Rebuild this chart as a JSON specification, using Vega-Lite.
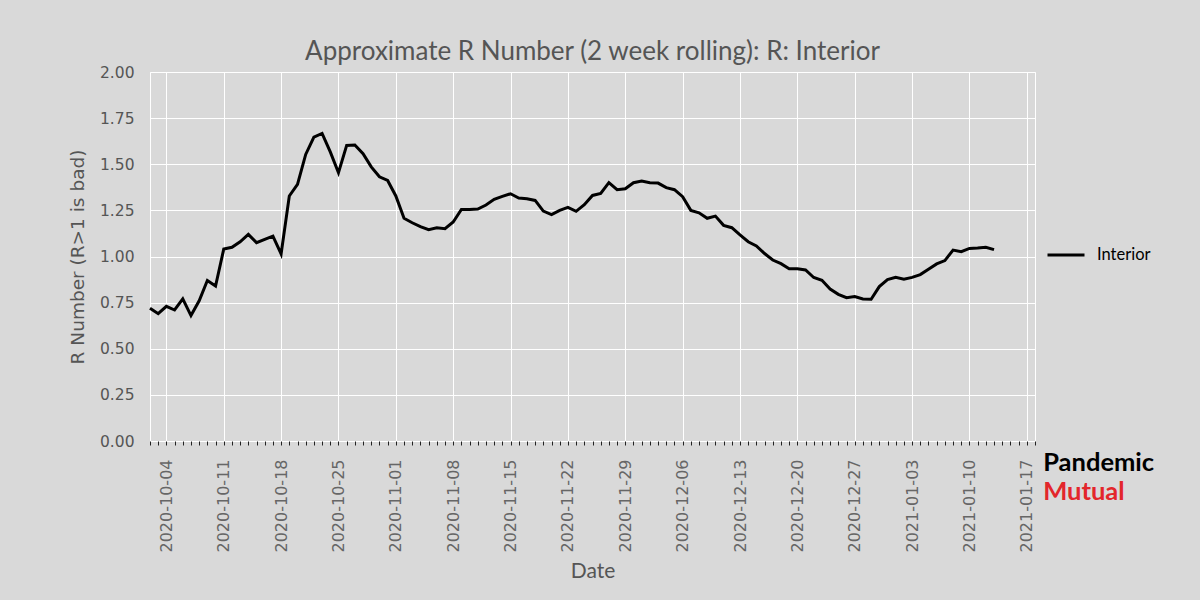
{
  "$schema": "https://vega.github.io/schema/vega-lite/v6.json",
  "autosize": {"type": "none"},
  "width": 885,
  "height": 369,
  "padding": {"left": 150, "top": 72, "right": 165, "bottom": 159},
  "background": "#d9d9d9",
  "config": {
    "view": {"stroke": "white", "strokeWidth": 1, "fill": "#d9d9d9"},
    "font": "Lato"
  },
  "title": {
    "text": "Approximate R Number (2 week rolling): R: Interior",
    "font": "Lato",
    "fontSize": 26,
    "fontWeight": "normal",
    "color": "#555555",
    "anchor": "middle",
    "offset": 0
  },
  "layer": [
    {
      "data": {
        "values": [
          {"date": "2020-10-02", "r": 0.72, "region": "Interior"},
          {"date": "2020-10-03", "r": 0.69, "region": "Interior"},
          {"date": "2020-10-04", "r": 0.73, "region": "Interior"},
          {"date": "2020-10-05", "r": 0.71, "region": "Interior"},
          {"date": "2020-10-06", "r": 0.77, "region": "Interior"},
          {"date": "2020-10-07", "r": 0.68, "region": "Interior"},
          {"date": "2020-10-08", "r": 0.76, "region": "Interior"},
          {"date": "2020-10-09", "r": 0.87, "region": "Interior"},
          {"date": "2020-10-10", "r": 0.84, "region": "Interior"},
          {"date": "2020-10-11", "r": 1.04, "region": "Interior"},
          {"date": "2020-10-12", "r": 1.05, "region": "Interior"},
          {"date": "2020-10-13", "r": 1.08, "region": "Interior"},
          {"date": "2020-10-14", "r": 1.12, "region": "Interior"},
          {"date": "2020-10-15", "r": 1.075, "region": "Interior"},
          {"date": "2020-10-16", "r": 1.093, "region": "Interior"},
          {"date": "2020-10-17", "r": 1.11, "region": "Interior"},
          {"date": "2020-10-18", "r": 1.014, "region": "Interior"},
          {"date": "2020-10-19", "r": 1.328, "region": "Interior"},
          {"date": "2020-10-20", "r": 1.391, "region": "Interior"},
          {"date": "2020-10-21", "r": 1.553, "region": "Interior"},
          {"date": "2020-10-22", "r": 1.647, "region": "Interior"},
          {"date": "2020-10-23", "r": 1.667, "region": "Interior"},
          {"date": "2020-10-24", "r": 1.567, "region": "Interior"},
          {"date": "2020-10-25", "r": 1.454, "region": "Interior"},
          {"date": "2020-10-26", "r": 1.602, "region": "Interior"},
          {"date": "2020-10-27", "r": 1.604, "region": "Interior"},
          {"date": "2020-10-28", "r": 1.557, "region": "Interior"},
          {"date": "2020-10-29", "r": 1.486, "region": "Interior"},
          {"date": "2020-10-30", "r": 1.432, "region": "Interior"},
          {"date": "2020-10-31", "r": 1.412, "region": "Interior"},
          {"date": "2020-11-01", "r": 1.328, "region": "Interior"},
          {"date": "2020-11-02", "r": 1.207, "region": "Interior"},
          {"date": "2020-11-03", "r": 1.183, "region": "Interior"},
          {"date": "2020-11-04", "r": 1.162, "region": "Interior"},
          {"date": "2020-11-05", "r": 1.145, "region": "Interior"},
          {"date": "2020-11-06", "r": 1.156, "region": "Interior"},
          {"date": "2020-11-07", "r": 1.151, "region": "Interior"},
          {"date": "2020-11-08", "r": 1.187, "region": "Interior"},
          {"date": "2020-11-09", "r": 1.255, "region": "Interior"},
          {"date": "2020-11-10", "r": 1.255, "region": "Interior"},
          {"date": "2020-11-11", "r": 1.257, "region": "Interior"},
          {"date": "2020-11-12", "r": 1.279, "region": "Interior"},
          {"date": "2020-11-13", "r": 1.31, "region": "Interior"},
          {"date": "2020-11-14", "r": 1.326, "region": "Interior"},
          {"date": "2020-11-15", "r": 1.34, "region": "Interior"},
          {"date": "2020-11-16", "r": 1.317, "region": "Interior"},
          {"date": "2020-11-17", "r": 1.313, "region": "Interior"},
          {"date": "2020-11-18", "r": 1.304, "region": "Interior"},
          {"date": "2020-11-19", "r": 1.246, "region": "Interior"},
          {"date": "2020-11-20", "r": 1.227, "region": "Interior"},
          {"date": "2020-11-21", "r": 1.25, "region": "Interior"},
          {"date": "2020-11-22", "r": 1.266, "region": "Interior"},
          {"date": "2020-11-23", "r": 1.245, "region": "Interior"},
          {"date": "2020-11-24", "r": 1.281, "region": "Interior"},
          {"date": "2020-11-25", "r": 1.331, "region": "Interior"},
          {"date": "2020-11-26", "r": 1.342, "region": "Interior"},
          {"date": "2020-11-27", "r": 1.4, "region": "Interior"},
          {"date": "2020-11-28", "r": 1.362, "region": "Interior"},
          {"date": "2020-11-29", "r": 1.367, "region": "Interior"},
          {"date": "2020-11-30", "r": 1.4, "region": "Interior"},
          {"date": "2020-12-01", "r": 1.409, "region": "Interior"},
          {"date": "2020-12-02", "r": 1.4, "region": "Interior"},
          {"date": "2020-12-03", "r": 1.398, "region": "Interior"},
          {"date": "2020-12-04", "r": 1.373, "region": "Interior"},
          {"date": "2020-12-05", "r": 1.362, "region": "Interior"},
          {"date": "2020-12-06", "r": 1.324, "region": "Interior"},
          {"date": "2020-12-07", "r": 1.25, "region": "Interior"},
          {"date": "2020-12-08", "r": 1.237, "region": "Interior"},
          {"date": "2020-12-09", "r": 1.207, "region": "Interior"},
          {"date": "2020-12-10", "r": 1.219, "region": "Interior"},
          {"date": "2020-12-11", "r": 1.169, "region": "Interior"},
          {"date": "2020-12-12", "r": 1.156, "region": "Interior"},
          {"date": "2020-12-13", "r": 1.117, "region": "Interior"},
          {"date": "2020-12-14", "r": 1.08, "region": "Interior"},
          {"date": "2020-12-15", "r": 1.057, "region": "Interior"},
          {"date": "2020-12-16", "r": 1.016, "region": "Interior"},
          {"date": "2020-12-17", "r": 0.981, "region": "Interior"},
          {"date": "2020-12-18", "r": 0.961, "region": "Interior"},
          {"date": "2020-12-19", "r": 0.934, "region": "Interior"},
          {"date": "2020-12-20", "r": 0.933, "region": "Interior"},
          {"date": "2020-12-21", "r": 0.927, "region": "Interior"},
          {"date": "2020-12-22", "r": 0.886, "region": "Interior"},
          {"date": "2020-12-23", "r": 0.871, "region": "Interior"},
          {"date": "2020-12-24", "r": 0.824, "region": "Interior"},
          {"date": "2020-12-25", "r": 0.795, "region": "Interior"},
          {"date": "2020-12-26", "r": 0.777, "region": "Interior"},
          {"date": "2020-12-27", "r": 0.783, "region": "Interior"},
          {"date": "2020-12-28", "r": 0.77, "region": "Interior"},
          {"date": "2020-12-29", "r": 0.768, "region": "Interior"},
          {"date": "2020-12-30", "r": 0.837, "region": "Interior"},
          {"date": "2020-12-31", "r": 0.875, "region": "Interior"},
          {"date": "2021-01-01", "r": 0.887, "region": "Interior"},
          {"date": "2021-01-02", "r": 0.877, "region": "Interior"},
          {"date": "2021-01-03", "r": 0.887, "region": "Interior"},
          {"date": "2021-01-04", "r": 0.902, "region": "Interior"},
          {"date": "2021-01-05", "r": 0.931, "region": "Interior"},
          {"date": "2021-01-06", "r": 0.96, "region": "Interior"},
          {"date": "2021-01-07", "r": 0.978, "region": "Interior"},
          {"date": "2021-01-08", "r": 1.035, "region": "Interior"},
          {"date": "2021-01-09", "r": 1.026, "region": "Interior"},
          {"date": "2021-01-10", "r": 1.044, "region": "Interior"},
          {"date": "2021-01-11", "r": 1.046, "region": "Interior"},
          {"date": "2021-01-12", "r": 1.05, "region": "Interior"},
          {"date": "2021-01-13", "r": 1.037, "region": "Interior"}
        ]
      },
      "mark": {"type": "line", "color": "black", "strokeWidth": 3},
      "encoding": {
        "x": {
          "field": "date",
          "type": "temporal",
          "scale": {"type": "utc", "domain": ["2020-10-02", "2021-01-18"]},
          "axis": {
            "title": "Date",
            "titleFont": "Lato",
            "titleFontSize": 21,
            "titleFontWeight": "normal",
            "titleColor": "#555555",
            "titlePadding": 9,
            "tickCount": {"interval": "day", "step": 1},
            "labelExpr": "utcday(datum.value) == 0 ? utcFormat(datum.value, '%Y-%m-%d') : ''",
            "labelAngle": 270,
            "labelFont": "DejaVu Sans",
            "labelFontSize": 16,
            "labelColor": "#666666",
            "labelPadding": 14,
            "labelOverlap": false,
            "labelFlush": false,
            "grid": true,
            "gridColor": "white",
            "gridWidth": 1,
            "gridOpacity": {"condition": {"test": "utcday(datum.value) == 0", "value": 1}, "value": 0},
            "ticks": true,
            "tickColor": "#222222",
            "tickSize": 4,
            "tickWidth": 1,
            "domain": false
          }
        },
        "y": {
          "field": "r",
          "type": "quantitative",
          "scale": {"domain": [0, 2], "nice": false, "zero": true},
          "axis": {
            "title": "R Number (R>1 is bad)",
            "titleFont": "DejaVu Sans",
            "titleFontSize": 18.5,
            "titleFontWeight": "normal",
            "titleColor": "#555555",
            "titlePadding": 12,
            "values": [0, 0.25, 0.5, 0.75, 1, 1.25, 1.5, 1.75, 2],
            "format": ".2f",
            "labelFont": "DejaVu Sans",
            "labelFontSize": 15.5,
            "labelColor": "#555555",
            "labelPadding": 16,
            "ticks": false,
            "grid": true,
            "gridColor": "white",
            "gridWidth": 1,
            "domain": false
          }
        },
        "color": {
          "field": "region",
          "type": "nominal",
          "scale": {"domain": ["Interior"], "range": ["black"]},
          "legend": {
            "title": null,
            "orient": "none",
            "legendX": 896,
            "legendY": 163,
            "padding": 0,
            "symbolType": "stroke",
            "symbolSize": 1369,
            "symbolStrokeWidth": 3,
            "labelFont": "Lato",
            "labelFontSize": 16.5,
            "labelColor": "black",
            "labelOffset": 11
          }
        }
      }
    },
    {
      "data": {"values": [{"label": "Pandemic"}]},
      "mark": {"type": "text", "align": "left", "baseline": "alphabetic", "font": "Lato", "fontSize": 25.5, "fontWeight": "bold", "color": "black"},
      "encoding": {
        "x": {"datum": {"year": 2021, "month": 1, "date": 19, "hours": 0, "utc": true}, "type": "temporal"},
        "y": {"datum": -0.165, "type": "quantitative"},
        "text": {"field": "label"}
      }
    },
    {
      "data": {"values": [{"label": "Mutual"}]},
      "mark": {"type": "text", "align": "left", "baseline": "alphabetic", "font": "Lato", "fontSize": 25.5, "fontWeight": "bold", "color": "#e3262b"},
      "encoding": {
        "x": {"datum": {"year": 2021, "month": 1, "date": 19, "hours": 0, "utc": true}, "type": "temporal"},
        "y": {"datum": -0.322, "type": "quantitative"},
        "text": {"field": "label"}
      }
    }
  ]
}
